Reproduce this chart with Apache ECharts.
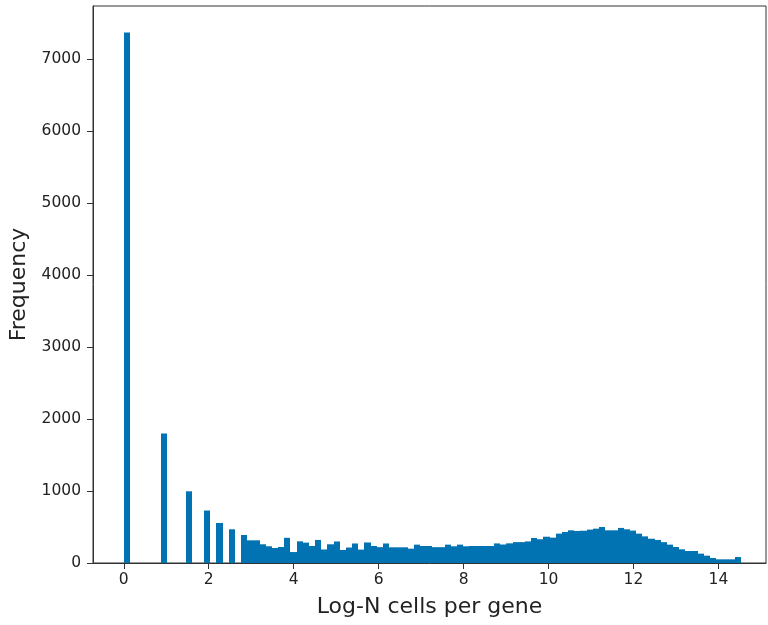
<!DOCTYPE html>
<html>
<head>
<meta charset="utf-8">
<script src="https://cdn.jsdelivr.net/npm/echarts@6/dist/echarts.min.js"></script>
<style>html,body{margin:0;padding:0;background:#fff}#c{width:768px;height:625px}</style>
</head>
<body>
<div id="c"></div>
<script>
// Histogram of log cells per gene: 100 equal-width bins starting at 0
const binStart = 0;
const binWidth = 0.1453;
const counts = [
  7368, 0, 0, 0, 0, 0, 1797, 0, 0, 0,
  996, 0, 0, 729, 0, 556, 0, 468, 0, 389,
  315, 315, 260, 232, 208, 222, 350, 152, 301, 283,
  236, 320, 188, 260, 299, 181, 215, 271, 186, 285,
  236, 220, 271, 218, 218, 218, 199, 255, 236, 236,
  220, 220, 255, 232, 255, 232, 236, 236, 236, 236,
  272, 257, 273, 290, 290, 300, 347, 330, 365, 352,
  408, 431, 454, 445, 448, 464, 477, 500, 454, 454,
  487, 468, 450, 408, 370, 337, 320, 290, 255, 222,
  190, 167, 167, 130, 102, 70, 51, 51, 51, 83
];
const xTicks = [0, 2, 4, 6, 8, 10, 12, 14];
const yTicks = [0, 1000, 2000, 3000, 4000, 5000, 6000, 7000];
const xLabel = 'Log-N cells per gene';
const yLabel = 'Frequency';

const bins = counts.map((c, i) => [binStart + i * binWidth, binStart + (i + 1) * binWidth, c]);

const chart = echarts.init(document.getElementById('c'), null, {renderer: 'canvas'});
const axisColor = '#333';
const font = 'DejaVu Sans';
chart.setOption({
  animation: false,
  backgroundColor: '#fff',
  grid: {left: 93, right: 2, top: 6, bottom: 62, show: true, borderColor: axisColor, borderWidth: 1, backgroundColor: 'transparent'},
  xAxis: {
    type: 'value', min: -0.725, max: 15.12,
    name: xLabel, nameLocation: 'middle', nameGap: 33,
    nameTextStyle: {fontFamily: font, fontSize: 22, color: '#222'},
    axisLine: {show: true, onZero: false, lineStyle: {color: axisColor, width: 1}},
    axisTick: {show: true, length: 6, inside: false, customValues: xTicks, lineStyle: {color: axisColor}},
    axisLabel: {customValues: xTicks, margin: 9, fontFamily: font, fontSize: 15.5, color: '#222', formatter: v => String(v)},
    splitLine: {show: false}
  },
  yAxis: {
    type: 'value', min: 0, max: 7736,
    name: yLabel, nameLocation: 'middle', nameGap: 58, nameRotate: 90,
    nameTextStyle: {fontFamily: font, fontSize: 22, color: '#222'},
    axisLine: {show: true, onZero: false, lineStyle: {color: axisColor, width: 1}},
    axisTick: {show: true, length: 6, inside: false, customValues: yTicks, lineStyle: {color: axisColor}},
    axisLabel: {customValues: yTicks, margin: 12, fontFamily: font, fontSize: 15.5, color: '#222', formatter: v => String(v)},
    splitLine: {show: false}
  },
  series: [{
    type: 'custom',
    data: bins,
    encode: {x: [0, 1], y: 2},
    renderItem: function (params, api) {
      const v = api.value(2);
      if (!v) return null;
      const p0 = api.coord([api.value(0), v]);
      const p1 = api.coord([api.value(1), 0]);
      const x0 = Math.round(p0[0]);
      const x1 = Math.round(p1[0]);
      return {
        type: 'rect',
        shape: {x: x0, y: p0[1], width: x1 - x0, height: p1[1] - p0[1]},
        style: {fill: '#0173B2'}
      };
    }
  }]
});
</script>
</body>
</html>
